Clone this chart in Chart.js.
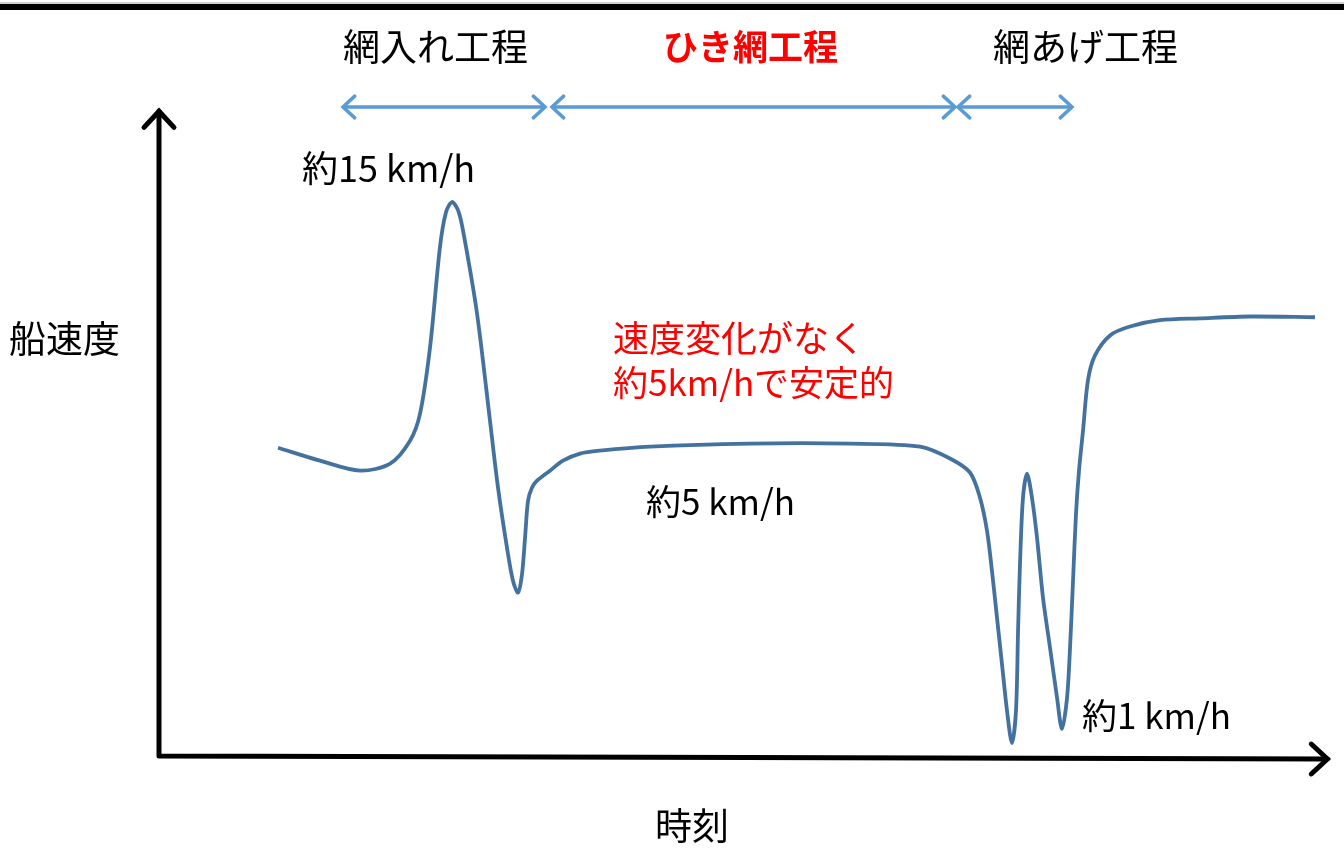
<!DOCTYPE html>
<html lang="ja">
<head>
<meta charset="utf-8">
<title>船速度の推移</title>
<script src="https://cdn.jsdelivr.net/npm/chart.js@4/dist/chart.umd.min.js"></script>
<style>
  html, body { margin: 0; padding: 0; background: #fff; }
  #speedChart { display: block; }
</style>
</head>
<body>
<canvas id="speedChart" width="1344" height="864"></canvas>
<script>
// time (arbitrary units) and ship speed (schematic units, peak ~15)
const times = [
  10.35, 14.0, 17.48, 20.09, 21.83, 22.7, 23.57, 24.43, 24.96, 25.48, 26.0, 26.43,
  27.65, 28.78, 29.48, 30.26, 30.78, 31.22, 31.57, 31.83, 32.09, 32.43, 32.87, 34.0,
  35.13, 36.61, 38.35, 42.7, 51.39, 60.09, 66.17, 68.78, 70.52, 71.39, 72.0, 72.43,
  72.87, 73.3, 73.74, 74.17, 74.52, 74.7, 74.87, 75.13, 75.48, 75.91, 76.35, 76.87,
  77.48, 78.09, 78.52, 78.96, 79.22, 79.48, 79.74, 80.0, 80.35, 80.78, 81.39, 82.7,
  84.43, 87.04, 90.52, 94.87, 100.52
];
const speeds = [
  8.32, 7.97, 7.70, 7.89, 8.51, 9.24, 11.03, 13.73, 14.68, 14.95, 14.73, 14.19,
  11.95, 9.05, 7.24, 5.62, 4.73, 4.41, 4.92, 5.89, 6.89, 7.24, 7.43, 7.70,
  7.97, 8.16, 8.24, 8.35, 8.43, 8.43, 8.35, 8.03, 7.65, 6.97, 6.08, 5.0,
  3.73, 2.49, 1.22, 0.35, 1.22, 3.38, 5.19, 6.97, 7.62, 6.97, 5.89, 4.27,
  2.92, 1.57, 0.73, 1.57, 2.92, 4.73, 6.54, 7.70, 8.78, 10.14, 10.81, 11.35,
  11.59, 11.76, 11.81, 11.86, 11.84
];

// work phases along the time axis
const phaseNames = ['網入れ工程', 'ひき網工程', '網あげ工程'];
const phaseStart = [16.0, 34.17, 69.48];
const phaseEnd = [33.57, 69.22, 79.39];
const phaseColors = ['#000000', '#ff0000', '#000000'];

const axisTitleY = '船速度';
const axisTitleX = '時刻';

const FONT = '"Noto Sans CJK JP", "Noto Sans", sans-serif';

const points = times.map((t, i) => ({x: t, y: speeds[i]}));

// where the phase names sit (left edge, px)
const phaseLabelX = [343, 663, 993];

// axes, phase arrows and notes drawn on top of the line
const sketchPlugin = {
  id: 'sketch',
  afterDraw(chart) {
    const ctx = chart.ctx;
    const xs = chart.scales.x;
    const ys = chart.scales.y;
    const x0 = xs.getPixelForValue(0);
    const y0 = ys.getPixelForValue(0);

    ctx.save();

    // frame line at the top
    ctx.fillStyle = '#d0d0d0';
    ctx.fillRect(0, 2, chart.width, 2);
    ctx.fillStyle = '#000';
    ctx.fillRect(0, 4, chart.width, 6);

    // axes
    ctx.strokeStyle = '#000';
    ctx.lineWidth = 5;
    ctx.lineCap = 'round';
    ctx.lineJoin = 'round';
    ctx.beginPath();
    ctx.moveTo(x0, y0);
    ctx.lineTo(x0, ys.getPixelForValue(17.4));
    ctx.moveTo(x0, y0);
    ctx.lineTo(xs.getPixelForValue(101.6), y0 + 3);
    ctx.stroke();
    chevron(ctx, x0, ys.getPixelForValue(17.4), -Math.PI / 2, 22, 5, '#000');
    chevron(ctx, xs.getPixelForValue(101.6), y0 + 3, 0, 22, 5, '#000');

    // phase arrows and names
    ctx.textAlign = 'left';
    ctx.textBaseline = 'middle';
    phaseNames.forEach((name, i) => {
      const a = xs.getPixelForValue(phaseStart[i]);
      const b = xs.getPixelForValue(phaseEnd[i]);
      ctx.strokeStyle = '#5b9bd5';
      ctx.lineWidth = 3.5;
      ctx.beginPath();
      ctx.moveTo(a + 2, 107);
      ctx.lineTo(b - 2, 107);
      ctx.stroke();
      chevron(ctx, a, 107, Math.PI, 16, 3.5, '#5b9bd5');
      chevron(ctx, b, 107, 0, 16, 3.5, '#5b9bd5');
      ctx.fillStyle = phaseColors[i];
      ctx.font = (i === 1 ? 'bold 35px ' : '37px ') + FONT;
      ctx.fillText(name, phaseLabelX[i], 47);
    });

    // notes
    ctx.fillStyle = '#000';
    ctx.font = '36px ' + FONT;
    ctx.fillText('約15 km/h', 302, 168);
    ctx.font = '35px ' + FONT;
    ctx.fillText('約5 km/h', 646, 502);
    ctx.fillText('約1 km/h', 1082, 716);
    ctx.font = '37px ' + FONT;
    ctx.fillText(axisTitleY, 9, 339);
    ctx.fillText(axisTitleX, 655, 826);

    ctx.fillStyle = '#ff0000';
    ctx.font = '36px ' + FONT;
    ctx.fillText('速度変化がなく', 613, 338);
    ctx.font = '35px ' + FONT;
    ctx.fillText('約5km/hで安定的', 613, 383);

    ctx.restore();
  }
};

function chevron(ctx, x, y, angle, len, width, color) {
  const spread = Math.PI / 4.2;
  ctx.save();
  ctx.strokeStyle = color;
  ctx.lineWidth = width;
  ctx.lineCap = 'round';
  ctx.lineJoin = 'miter';
  ctx.beginPath();
  ctx.moveTo(x - len * Math.cos(angle - spread), y - len * Math.sin(angle - spread));
  ctx.lineTo(x, y);
  ctx.lineTo(x - len * Math.cos(angle + spread), y - len * Math.sin(angle + spread));
  ctx.stroke();
  ctx.restore();
}

new Chart(document.getElementById('speedChart').getContext('2d'), {
  type: 'line',
  data: {
    datasets: [
      {
        label: '船速度',
        data: points,
        borderColor: '#44729f',
        borderWidth: 3.8,
        pointRadius: 0,
        fill: false,
        tension: 0.3
      }
    ]
  },
  options: {
    responsive: false,
    devicePixelRatio: 1,
    animation: false,
    layout: {
      padding: {left: 159, right: 12, top: 89, bottom: 108}
    },
    scales: {
      x: {type: 'linear', min: 0, max: 102, display: false},
      y: {type: 'linear', min: 0, max: 18, display: false}
    },
    plugins: {
      legend: {display: false},
      tooltip: {enabled: false}
    }
  },
  plugins: [sketchPlugin]
});
</script>
</body>
</html>
